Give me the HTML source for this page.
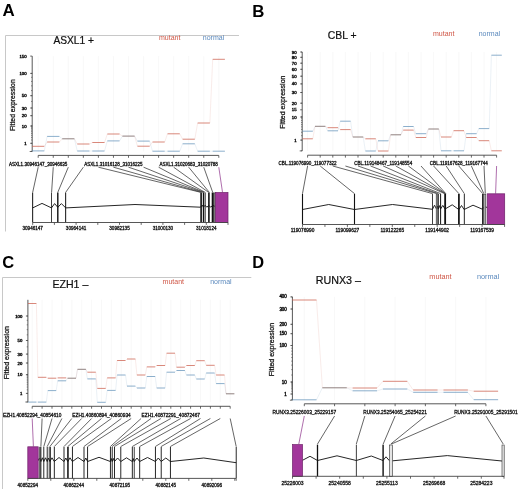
<!DOCTYPE html>
<html><head><meta charset="utf-8"><style>
html,body{margin:0;padding:0;background:#fff;width:520px;height:489px;overflow:hidden}
svg{display:block;will-change:transform}
text{font-family:"Liberation Sans",sans-serif}
</style></head><body>
<svg width="520" height="489" viewBox="0 0 520 489">
<rect width="520" height="489" fill="#fff"/>
<line x1="5.50" y1="35.50" x2="239.00" y2="35.50" stroke="#c8c8c8" stroke-width="1"/>
<line x1="5.50" y1="35.50" x2="5.50" y2="231.50" stroke="#c8c8c8" stroke-width="1"/>
<text x="2.60" y="15.90" font-size="16.9" fill="#000" text-anchor="start" font-weight="bold">A</text>
<text x="53.40" y="44.10" font-size="10.2" fill="#111" text-anchor="start" font-weight="normal" stroke="#111" stroke-width="0.22">ASXL1 +</text>
<text x="159.00" y="39.90" font-size="7.0" fill="#cf5646" text-anchor="start" font-weight="normal">mutant</text>
<text x="202.80" y="39.90" font-size="7.0" fill="#5b89bd" text-anchor="start" font-weight="normal">normal</text>
<line x1="38.20" y1="56.10" x2="38.20" y2="151.50" stroke="#f6f6f6" stroke-width="0.8"/>
<line x1="53.25" y1="56.10" x2="53.25" y2="151.50" stroke="#f6f6f6" stroke-width="0.8"/>
<line x1="68.30" y1="56.10" x2="68.30" y2="151.50" stroke="#f6f6f6" stroke-width="0.8"/>
<line x1="83.35" y1="56.10" x2="83.35" y2="151.50" stroke="#f6f6f6" stroke-width="0.8"/>
<line x1="98.40" y1="56.10" x2="98.40" y2="151.50" stroke="#f6f6f6" stroke-width="0.8"/>
<line x1="113.45" y1="56.10" x2="113.45" y2="151.50" stroke="#f6f6f6" stroke-width="0.8"/>
<line x1="128.50" y1="56.10" x2="128.50" y2="151.50" stroke="#f6f6f6" stroke-width="0.8"/>
<line x1="143.55" y1="56.10" x2="143.55" y2="151.50" stroke="#f6f6f6" stroke-width="0.8"/>
<line x1="158.60" y1="56.10" x2="158.60" y2="151.50" stroke="#f6f6f6" stroke-width="0.8"/>
<line x1="173.65" y1="56.10" x2="173.65" y2="151.50" stroke="#f6f6f6" stroke-width="0.8"/>
<line x1="188.70" y1="56.10" x2="188.70" y2="151.50" stroke="#f6f6f6" stroke-width="0.8"/>
<line x1="203.75" y1="56.10" x2="203.75" y2="151.50" stroke="#f6f6f6" stroke-width="0.8"/>
<line x1="218.80" y1="56.10" x2="218.80" y2="151.50" stroke="#f6f6f6" stroke-width="0.8"/>
<line x1="32.20" y1="56.10" x2="32.20" y2="151.50" stroke="#444" stroke-width="0.9"/>
<line x1="31.00" y1="143.30" x2="32.20" y2="143.30" stroke="#444" stroke-width="0.6"/>
<line x1="31.00" y1="139.99" x2="32.20" y2="139.99" stroke="#444" stroke-width="0.6"/>
<line x1="31.00" y1="137.44" x2="32.20" y2="137.44" stroke="#444" stroke-width="0.6"/>
<line x1="31.00" y1="135.30" x2="32.20" y2="135.30" stroke="#444" stroke-width="0.6"/>
<line x1="31.00" y1="133.41" x2="32.20" y2="133.41" stroke="#444" stroke-width="0.6"/>
<line x1="31.00" y1="131.70" x2="32.20" y2="131.70" stroke="#444" stroke-width="0.6"/>
<line x1="31.00" y1="130.13" x2="32.20" y2="130.13" stroke="#444" stroke-width="0.6"/>
<line x1="31.00" y1="128.67" x2="32.20" y2="128.67" stroke="#444" stroke-width="0.6"/>
<line x1="31.00" y1="127.30" x2="32.20" y2="127.30" stroke="#444" stroke-width="0.6"/>
<line x1="31.00" y1="126.00" x2="32.20" y2="126.00" stroke="#444" stroke-width="0.6"/>
<line x1="31.00" y1="126.00" x2="32.20" y2="126.00" stroke="#444" stroke-width="0.6"/>
<line x1="31.00" y1="115.70" x2="32.20" y2="115.70" stroke="#444" stroke-width="0.6"/>
<line x1="31.00" y1="108.00" x2="32.20" y2="108.00" stroke="#444" stroke-width="0.6"/>
<line x1="31.00" y1="101.46" x2="32.20" y2="101.46" stroke="#444" stroke-width="0.6"/>
<line x1="31.00" y1="95.70" x2="32.20" y2="95.70" stroke="#444" stroke-width="0.6"/>
<line x1="31.00" y1="90.56" x2="32.20" y2="90.56" stroke="#444" stroke-width="0.6"/>
<line x1="31.00" y1="85.84" x2="32.20" y2="85.84" stroke="#444" stroke-width="0.6"/>
<line x1="31.00" y1="81.44" x2="32.20" y2="81.44" stroke="#444" stroke-width="0.6"/>
<line x1="31.00" y1="77.31" x2="32.20" y2="77.31" stroke="#444" stroke-width="0.6"/>
<line x1="31.00" y1="73.40" x2="32.20" y2="73.40" stroke="#444" stroke-width="0.6"/>
<line x1="31.00" y1="151.30" x2="32.20" y2="151.30" stroke="#444" stroke-width="0.6"/>
<line x1="30.20" y1="56.10" x2="32.20" y2="56.10" stroke="#444" stroke-width="0.8"/>
<text x="26.60" y="57.60" font-size="4.25" fill="#111" text-anchor="end" font-weight="normal" stroke="#111" stroke-width="0.4">150</text>
<line x1="30.20" y1="73.40" x2="32.20" y2="73.40" stroke="#444" stroke-width="0.8"/>
<text x="26.60" y="74.90" font-size="4.25" fill="#111" text-anchor="end" font-weight="normal" stroke="#111" stroke-width="0.4">100</text>
<line x1="30.20" y1="95.70" x2="32.20" y2="95.70" stroke="#444" stroke-width="0.8"/>
<text x="26.60" y="97.20" font-size="4.25" fill="#111" text-anchor="end" font-weight="normal" stroke="#111" stroke-width="0.4">50</text>
<line x1="30.20" y1="108.00" x2="32.20" y2="108.00" stroke="#444" stroke-width="0.8"/>
<text x="26.60" y="109.50" font-size="4.25" fill="#111" text-anchor="end" font-weight="normal" stroke="#111" stroke-width="0.4">30</text>
<line x1="30.20" y1="115.70" x2="32.20" y2="115.70" stroke="#444" stroke-width="0.8"/>
<text x="26.60" y="117.20" font-size="4.25" fill="#111" text-anchor="end" font-weight="normal" stroke="#111" stroke-width="0.4">20</text>
<line x1="30.20" y1="126.00" x2="32.20" y2="126.00" stroke="#444" stroke-width="0.8"/>
<text x="26.60" y="127.50" font-size="4.25" fill="#111" text-anchor="end" font-weight="normal" stroke="#111" stroke-width="0.4">10</text>
<line x1="30.20" y1="143.30" x2="32.20" y2="143.30" stroke="#444" stroke-width="0.8"/>
<text x="26.60" y="144.80" font-size="4.25" fill="#111" text-anchor="end" font-weight="normal" stroke="#111" stroke-width="0.4">1</text>
<line x1="29.70" y1="151.50" x2="32.20" y2="151.50" stroke="#444" stroke-width="0.8"/>
<text x="15.00" y="105.20" font-size="6.8" fill="#111" text-anchor="middle" font-weight="normal" stroke="#111" stroke-width="0.25" transform="rotate(-90 15.00 105.20)">Fitted expression</text>
<line x1="44.30" y1="150.90" x2="47.15" y2="136.40" stroke="#5689b4" stroke-width="0.6" stroke-opacity="0.2"/>
<line x1="59.35" y1="136.40" x2="62.20" y2="138.80" stroke="#5689b4" stroke-width="0.6" stroke-opacity="0.2"/>
<line x1="74.40" y1="138.80" x2="77.25" y2="151.00" stroke="#5689b4" stroke-width="0.6" stroke-opacity="0.2"/>
<line x1="89.45" y1="151.00" x2="92.30" y2="151.00" stroke="#5689b4" stroke-width="0.6" stroke-opacity="0.2"/>
<line x1="104.50" y1="151.00" x2="107.35" y2="140.90" stroke="#5689b4" stroke-width="0.6" stroke-opacity="0.2"/>
<line x1="119.55" y1="140.90" x2="122.40" y2="136.10" stroke="#5689b4" stroke-width="0.6" stroke-opacity="0.2"/>
<line x1="134.60" y1="136.10" x2="137.45" y2="141.10" stroke="#5689b4" stroke-width="0.6" stroke-opacity="0.2"/>
<line x1="149.65" y1="141.10" x2="152.50" y2="151.20" stroke="#5689b4" stroke-width="0.6" stroke-opacity="0.2"/>
<line x1="164.70" y1="151.20" x2="167.55" y2="151.20" stroke="#5689b4" stroke-width="0.6" stroke-opacity="0.2"/>
<line x1="179.75" y1="151.20" x2="182.60" y2="143.80" stroke="#5689b4" stroke-width="0.6" stroke-opacity="0.2"/>
<line x1="194.80" y1="143.80" x2="197.65" y2="151.20" stroke="#5689b4" stroke-width="0.6" stroke-opacity="0.2"/>
<line x1="209.85" y1="151.20" x2="212.70" y2="151.20" stroke="#5689b4" stroke-width="0.6" stroke-opacity="0.2"/>
<line x1="44.30" y1="146.30" x2="47.15" y2="142.00" stroke="#cc604f" stroke-width="0.6" stroke-opacity="0.2"/>
<line x1="59.35" y1="142.00" x2="62.20" y2="138.80" stroke="#cc604f" stroke-width="0.6" stroke-opacity="0.2"/>
<line x1="74.40" y1="138.80" x2="77.25" y2="144.00" stroke="#cc604f" stroke-width="0.6" stroke-opacity="0.2"/>
<line x1="89.45" y1="144.00" x2="92.30" y2="142.50" stroke="#cc604f" stroke-width="0.6" stroke-opacity="0.2"/>
<line x1="104.50" y1="142.50" x2="107.35" y2="134.00" stroke="#cc604f" stroke-width="0.6" stroke-opacity="0.2"/>
<line x1="119.55" y1="134.00" x2="122.40" y2="136.10" stroke="#cc604f" stroke-width="0.6" stroke-opacity="0.2"/>
<line x1="134.60" y1="136.10" x2="137.45" y2="146.20" stroke="#cc604f" stroke-width="0.6" stroke-opacity="0.2"/>
<line x1="149.65" y1="146.20" x2="152.50" y2="142.00" stroke="#cc604f" stroke-width="0.6" stroke-opacity="0.2"/>
<line x1="164.70" y1="142.00" x2="167.55" y2="133.80" stroke="#cc604f" stroke-width="0.6" stroke-opacity="0.2"/>
<line x1="179.75" y1="133.80" x2="182.60" y2="139.20" stroke="#cc604f" stroke-width="0.6" stroke-opacity="0.2"/>
<line x1="194.80" y1="139.20" x2="197.65" y2="123.00" stroke="#cc604f" stroke-width="0.6" stroke-opacity="0.2"/>
<line x1="209.85" y1="123.00" x2="212.70" y2="59.30" stroke="#cc604f" stroke-width="0.6" stroke-opacity="0.2"/>
<line x1="32.10" y1="150.90" x2="44.30" y2="150.90" stroke="#5689b4" stroke-width="1.0" stroke-opacity="0.68"/>
<line x1="32.10" y1="146.30" x2="44.30" y2="146.30" stroke="#cc604f" stroke-width="1.0" stroke-opacity="0.75"/>
<line x1="47.15" y1="136.40" x2="59.35" y2="136.40" stroke="#5689b4" stroke-width="1.0" stroke-opacity="0.68"/>
<line x1="47.15" y1="142.00" x2="59.35" y2="142.00" stroke="#cc604f" stroke-width="1.0" stroke-opacity="0.75"/>
<line x1="62.20" y1="138.80" x2="74.40" y2="138.80" stroke="#7d6a68" stroke-width="1.0" stroke-opacity="0.85"/>
<line x1="77.25" y1="151.00" x2="89.45" y2="151.00" stroke="#5689b4" stroke-width="1.0" stroke-opacity="0.68"/>
<line x1="77.25" y1="144.00" x2="89.45" y2="144.00" stroke="#cc604f" stroke-width="1.0" stroke-opacity="0.75"/>
<line x1="92.30" y1="151.00" x2="104.50" y2="151.00" stroke="#5689b4" stroke-width="1.0" stroke-opacity="0.68"/>
<line x1="92.30" y1="142.50" x2="104.50" y2="142.50" stroke="#cc604f" stroke-width="1.0" stroke-opacity="0.75"/>
<line x1="107.35" y1="140.90" x2="119.55" y2="140.90" stroke="#5689b4" stroke-width="1.0" stroke-opacity="0.68"/>
<line x1="107.35" y1="134.00" x2="119.55" y2="134.00" stroke="#cc604f" stroke-width="1.0" stroke-opacity="0.75"/>
<line x1="122.40" y1="136.10" x2="134.60" y2="136.10" stroke="#7d6a68" stroke-width="1.0" stroke-opacity="0.85"/>
<line x1="137.45" y1="141.10" x2="149.65" y2="141.10" stroke="#5689b4" stroke-width="1.0" stroke-opacity="0.68"/>
<line x1="137.45" y1="146.20" x2="149.65" y2="146.20" stroke="#cc604f" stroke-width="1.0" stroke-opacity="0.75"/>
<line x1="152.50" y1="151.20" x2="164.70" y2="151.20" stroke="#5689b4" stroke-width="1.0" stroke-opacity="0.68"/>
<line x1="152.50" y1="142.00" x2="164.70" y2="142.00" stroke="#cc604f" stroke-width="1.0" stroke-opacity="0.75"/>
<line x1="167.55" y1="151.20" x2="179.75" y2="151.20" stroke="#5689b4" stroke-width="1.0" stroke-opacity="0.68"/>
<line x1="167.55" y1="133.80" x2="179.75" y2="133.80" stroke="#cc604f" stroke-width="1.0" stroke-opacity="0.75"/>
<line x1="182.60" y1="143.80" x2="194.80" y2="143.80" stroke="#5689b4" stroke-width="1.0" stroke-opacity="0.68"/>
<line x1="182.60" y1="139.20" x2="194.80" y2="139.20" stroke="#cc604f" stroke-width="1.0" stroke-opacity="0.75"/>
<line x1="197.65" y1="151.20" x2="209.85" y2="151.20" stroke="#5689b4" stroke-width="1.0" stroke-opacity="0.68"/>
<line x1="197.65" y1="123.00" x2="209.85" y2="123.00" stroke="#cc604f" stroke-width="1.0" stroke-opacity="0.75"/>
<line x1="212.70" y1="151.20" x2="224.90" y2="151.20" stroke="#5689b4" stroke-width="1.0" stroke-opacity="0.68"/>
<line x1="212.70" y1="59.30" x2="224.90" y2="59.30" stroke="#cc604f" stroke-width="1.0" stroke-opacity="0.75"/>
<line x1="38.20" y1="155.40" x2="218.80" y2="155.40" stroke="#444" stroke-width="0.9"/>
<line x1="38.20" y1="155.40" x2="38.20" y2="157.80" stroke="#444" stroke-width="0.8"/>
<line x1="53.25" y1="155.40" x2="53.25" y2="157.80" stroke="#444" stroke-width="0.8"/>
<line x1="68.30" y1="155.40" x2="68.30" y2="157.80" stroke="#444" stroke-width="0.8"/>
<line x1="83.35" y1="155.40" x2="83.35" y2="157.80" stroke="#444" stroke-width="0.8"/>
<line x1="98.40" y1="155.40" x2="98.40" y2="157.80" stroke="#444" stroke-width="0.8"/>
<line x1="113.45" y1="155.40" x2="113.45" y2="157.80" stroke="#444" stroke-width="0.8"/>
<line x1="128.50" y1="155.40" x2="128.50" y2="157.80" stroke="#444" stroke-width="0.8"/>
<line x1="143.55" y1="155.40" x2="143.55" y2="157.80" stroke="#444" stroke-width="0.8"/>
<line x1="158.60" y1="155.40" x2="158.60" y2="157.80" stroke="#444" stroke-width="0.8"/>
<line x1="173.65" y1="155.40" x2="173.65" y2="157.80" stroke="#444" stroke-width="0.8"/>
<line x1="188.70" y1="155.40" x2="188.70" y2="157.80" stroke="#444" stroke-width="0.8"/>
<line x1="203.75" y1="155.40" x2="203.75" y2="157.80" stroke="#444" stroke-width="0.8"/>
<line x1="218.80" y1="155.40" x2="218.80" y2="157.80" stroke="#444" stroke-width="0.8"/>
<text x="38.20" y="165.50" font-size="4.55" fill="#111" text-anchor="middle" font-weight="normal" stroke="#111" stroke-width="0.28">ASXL1.30946147_30946635</text>
<text x="113.45" y="165.50" font-size="4.55" fill="#111" text-anchor="middle" font-weight="normal" stroke="#111" stroke-width="0.28">ASXL1.31016128_31016225</text>
<text x="188.70" y="165.50" font-size="4.55" fill="#111" text-anchor="middle" font-weight="normal" stroke="#111" stroke-width="0.28">ASXL1.31020683_31020788</text>
<line x1="38.20" y1="167.20" x2="32.70" y2="192.30" stroke="#333" stroke-width="0.75"/>
<line x1="53.25" y1="167.20" x2="51.60" y2="192.30" stroke="#333" stroke-width="0.75"/>
<line x1="68.30" y1="167.20" x2="57.80" y2="192.30" stroke="#333" stroke-width="0.75"/>
<line x1="83.35" y1="167.20" x2="65.70" y2="192.30" stroke="#333" stroke-width="0.75"/>
<line x1="98.40" y1="167.20" x2="200.60" y2="192.30" stroke="#333" stroke-width="0.75"/>
<line x1="113.45" y1="167.20" x2="201.60" y2="192.30" stroke="#333" stroke-width="0.75"/>
<line x1="128.50" y1="167.20" x2="203.20" y2="192.30" stroke="#333" stroke-width="0.75"/>
<line x1="143.55" y1="167.20" x2="204.00" y2="192.30" stroke="#333" stroke-width="0.75"/>
<line x1="158.60" y1="167.20" x2="205.10" y2="192.30" stroke="#333" stroke-width="0.75"/>
<line x1="173.65" y1="167.20" x2="208.50" y2="192.30" stroke="#333" stroke-width="0.75"/>
<line x1="188.70" y1="167.20" x2="209.30" y2="192.30" stroke="#333" stroke-width="0.75"/>
<line x1="203.75" y1="167.20" x2="212.70" y2="192.30" stroke="#333" stroke-width="0.75"/>
<line x1="218.80" y1="167.20" x2="222.50" y2="192.30" stroke="#9a4a98" stroke-width="0.8"/>
<polyline points="32.70,207.90 42.00,203.40 51.50,207.90 54.60,203.60 57.80,207.30 61.40,203.60 65.70,207.90 135.00,204.50 200.50,207.20 202.30,205.20 203.40,207.20 205.10,205.30 206.80,207.20 208.90,205.40 210.60,207.20 212.70,205.50 215.50,206.50" fill="none" stroke="#1a1a1a" stroke-width="0.95" stroke-linejoin="round"/>
<rect x="32.15" y="192.50" width="1.00" height="30.00" fill="#111" stroke="none" stroke-width="1"/>
<rect x="51.10" y="192.50" width="0.80" height="30.00" fill="#111" stroke="none" stroke-width="1"/>
<rect x="57.10" y="192.50" width="1.40" height="30.00" fill="#111" stroke="none" stroke-width="1"/>
<rect x="65.15" y="192.50" width="1.00" height="30.00" fill="#111" stroke="none" stroke-width="1"/>
<rect x="200.30" y="192.50" width="1.60" height="30.00" fill="#111" stroke="none" stroke-width="1"/>
<rect x="202.80" y="192.50" width="1.20" height="30.00" fill="#111" stroke="none" stroke-width="1"/>
<rect x="204.60" y="192.50" width="1.00" height="30.00" fill="#111" stroke="none" stroke-width="1"/>
<rect x="208.10" y="192.50" width="1.60" height="30.00" fill="#111" stroke="none" stroke-width="1"/>
<rect x="211.70" y="192.50" width="2.10" height="30.00" fill="#111" stroke="none" stroke-width="1"/>
<rect x="214.60" y="192.90" width="1.60" height="29.60" fill="#aaa" stroke="#333" stroke-width="0.6"/>
<rect x="215.60" y="192.50" width="12.40" height="30.00" fill="#a2369b" stroke="#6e2069" stroke-width="0.7"/>
<line x1="32.70" y1="222.50" x2="228.00" y2="222.50" stroke="#444" stroke-width="0.9"/>
<line x1="32.70" y1="222.50" x2="32.70" y2="224.90" stroke="#444" stroke-width="0.8"/>
<line x1="54.40" y1="222.50" x2="54.40" y2="224.90" stroke="#444" stroke-width="0.8"/>
<line x1="76.10" y1="222.50" x2="76.10" y2="224.90" stroke="#444" stroke-width="0.8"/>
<line x1="97.80" y1="222.50" x2="97.80" y2="224.90" stroke="#444" stroke-width="0.8"/>
<line x1="119.50" y1="222.50" x2="119.50" y2="224.90" stroke="#444" stroke-width="0.8"/>
<line x1="141.20" y1="222.50" x2="141.20" y2="224.90" stroke="#444" stroke-width="0.8"/>
<line x1="162.90" y1="222.50" x2="162.90" y2="224.90" stroke="#444" stroke-width="0.8"/>
<line x1="184.60" y1="222.50" x2="184.60" y2="224.90" stroke="#444" stroke-width="0.8"/>
<line x1="206.30" y1="222.50" x2="206.30" y2="224.90" stroke="#444" stroke-width="0.8"/>
<line x1="228.00" y1="222.50" x2="228.00" y2="224.90" stroke="#444" stroke-width="0.8"/>
<text x="32.70" y="230.40" font-size="4.6" fill="#111" text-anchor="middle" font-weight="normal" stroke="#111" stroke-width="0.28">30946147</text>
<text x="76.10" y="230.40" font-size="4.6" fill="#111" text-anchor="middle" font-weight="normal" stroke="#111" stroke-width="0.28">30964141</text>
<text x="119.50" y="230.40" font-size="4.6" fill="#111" text-anchor="middle" font-weight="normal" stroke="#111" stroke-width="0.28">30982135</text>
<text x="162.90" y="230.40" font-size="4.6" fill="#111" text-anchor="middle" font-weight="normal" stroke="#111" stroke-width="0.28">31000130</text>
<text x="206.30" y="230.40" font-size="4.6" fill="#111" text-anchor="middle" font-weight="normal" stroke="#111" stroke-width="0.28">31018124</text>
<text x="252.20" y="16.50" font-size="16.8" fill="#000" text-anchor="start" font-weight="bold">B</text>
<text x="327.80" y="39.30" font-size="10.4" fill="#111" text-anchor="start" font-weight="normal" stroke="#111" stroke-width="0.22">CBL +</text>
<text x="433.00" y="35.50" font-size="7.0" fill="#cf5646" text-anchor="start" font-weight="normal">mutant</text>
<text x="478.70" y="35.50" font-size="7.0" fill="#5b89bd" text-anchor="start" font-weight="normal">normal</text>
<line x1="307.60" y1="52.00" x2="307.60" y2="150.90" stroke="#f6f6f6" stroke-width="0.8"/>
<line x1="320.20" y1="52.00" x2="320.20" y2="150.90" stroke="#f6f6f6" stroke-width="0.8"/>
<line x1="332.80" y1="52.00" x2="332.80" y2="150.90" stroke="#f6f6f6" stroke-width="0.8"/>
<line x1="345.40" y1="52.00" x2="345.40" y2="150.90" stroke="#f6f6f6" stroke-width="0.8"/>
<line x1="358.00" y1="52.00" x2="358.00" y2="150.90" stroke="#f6f6f6" stroke-width="0.8"/>
<line x1="370.60" y1="52.00" x2="370.60" y2="150.90" stroke="#f6f6f6" stroke-width="0.8"/>
<line x1="383.20" y1="52.00" x2="383.20" y2="150.90" stroke="#f6f6f6" stroke-width="0.8"/>
<line x1="395.80" y1="52.00" x2="395.80" y2="150.90" stroke="#f6f6f6" stroke-width="0.8"/>
<line x1="408.40" y1="52.00" x2="408.40" y2="150.90" stroke="#f6f6f6" stroke-width="0.8"/>
<line x1="421.00" y1="52.00" x2="421.00" y2="150.90" stroke="#f6f6f6" stroke-width="0.8"/>
<line x1="433.60" y1="52.00" x2="433.60" y2="150.90" stroke="#f6f6f6" stroke-width="0.8"/>
<line x1="446.20" y1="52.00" x2="446.20" y2="150.90" stroke="#f6f6f6" stroke-width="0.8"/>
<line x1="458.80" y1="52.00" x2="458.80" y2="150.90" stroke="#f6f6f6" stroke-width="0.8"/>
<line x1="471.40" y1="52.00" x2="471.40" y2="150.90" stroke="#f6f6f6" stroke-width="0.8"/>
<line x1="484.00" y1="52.00" x2="484.00" y2="150.90" stroke="#f6f6f6" stroke-width="0.8"/>
<line x1="496.60" y1="52.00" x2="496.60" y2="150.90" stroke="#f6f6f6" stroke-width="0.8"/>
<line x1="302.20" y1="52.00" x2="302.20" y2="150.90" stroke="#444" stroke-width="0.9"/>
<line x1="301.00" y1="140.10" x2="302.20" y2="140.10" stroke="#444" stroke-width="0.6"/>
<line x1="301.00" y1="135.67" x2="302.20" y2="135.67" stroke="#444" stroke-width="0.6"/>
<line x1="301.00" y1="132.28" x2="302.20" y2="132.28" stroke="#444" stroke-width="0.6"/>
<line x1="301.00" y1="129.42" x2="302.20" y2="129.42" stroke="#444" stroke-width="0.6"/>
<line x1="301.00" y1="126.89" x2="302.20" y2="126.89" stroke="#444" stroke-width="0.6"/>
<line x1="301.00" y1="124.61" x2="302.20" y2="124.61" stroke="#444" stroke-width="0.6"/>
<line x1="301.00" y1="122.52" x2="302.20" y2="122.52" stroke="#444" stroke-width="0.6"/>
<line x1="301.00" y1="120.57" x2="302.20" y2="120.57" stroke="#444" stroke-width="0.6"/>
<line x1="301.00" y1="118.73" x2="302.20" y2="118.73" stroke="#444" stroke-width="0.6"/>
<line x1="301.00" y1="117.00" x2="302.20" y2="117.00" stroke="#444" stroke-width="0.6"/>
<line x1="301.00" y1="117.00" x2="302.20" y2="117.00" stroke="#444" stroke-width="0.6"/>
<line x1="301.00" y1="103.20" x2="302.20" y2="103.20" stroke="#444" stroke-width="0.6"/>
<line x1="301.00" y1="92.50" x2="302.20" y2="92.50" stroke="#444" stroke-width="0.6"/>
<line x1="301.00" y1="83.90" x2="302.20" y2="83.90" stroke="#444" stroke-width="0.6"/>
<line x1="301.00" y1="76.20" x2="302.20" y2="76.20" stroke="#444" stroke-width="0.6"/>
<line x1="301.00" y1="69.30" x2="302.20" y2="69.30" stroke="#444" stroke-width="0.6"/>
<line x1="301.00" y1="63.20" x2="302.20" y2="63.20" stroke="#444" stroke-width="0.6"/>
<line x1="301.00" y1="57.30" x2="302.20" y2="57.30" stroke="#444" stroke-width="0.6"/>
<line x1="301.00" y1="52.00" x2="302.20" y2="52.00" stroke="#444" stroke-width="0.6"/>
<line x1="301.00" y1="150.78" x2="302.20" y2="150.78" stroke="#444" stroke-width="0.6"/>
<line x1="300.20" y1="52.00" x2="302.20" y2="52.00" stroke="#444" stroke-width="0.8"/>
<text x="296.60" y="53.50" font-size="4.25" fill="#111" text-anchor="end" font-weight="normal" stroke="#111" stroke-width="0.4">90</text>
<line x1="300.20" y1="57.30" x2="302.20" y2="57.30" stroke="#444" stroke-width="0.8"/>
<text x="296.60" y="58.80" font-size="4.25" fill="#111" text-anchor="end" font-weight="normal" stroke="#111" stroke-width="0.4">80</text>
<line x1="300.20" y1="63.20" x2="302.20" y2="63.20" stroke="#444" stroke-width="0.8"/>
<text x="296.60" y="64.70" font-size="4.25" fill="#111" text-anchor="end" font-weight="normal" stroke="#111" stroke-width="0.4">70</text>
<line x1="300.20" y1="69.30" x2="302.20" y2="69.30" stroke="#444" stroke-width="0.8"/>
<text x="296.60" y="70.80" font-size="4.25" fill="#111" text-anchor="end" font-weight="normal" stroke="#111" stroke-width="0.4">60</text>
<line x1="300.20" y1="76.20" x2="302.20" y2="76.20" stroke="#444" stroke-width="0.8"/>
<text x="296.60" y="77.70" font-size="4.25" fill="#111" text-anchor="end" font-weight="normal" stroke="#111" stroke-width="0.4">50</text>
<line x1="300.20" y1="83.90" x2="302.20" y2="83.90" stroke="#444" stroke-width="0.8"/>
<text x="296.60" y="85.40" font-size="4.25" fill="#111" text-anchor="end" font-weight="normal" stroke="#111" stroke-width="0.4">40</text>
<line x1="300.20" y1="92.50" x2="302.20" y2="92.50" stroke="#444" stroke-width="0.8"/>
<text x="296.60" y="94.00" font-size="4.25" fill="#111" text-anchor="end" font-weight="normal" stroke="#111" stroke-width="0.4">30</text>
<line x1="300.20" y1="103.20" x2="302.20" y2="103.20" stroke="#444" stroke-width="0.8"/>
<text x="296.60" y="104.70" font-size="4.25" fill="#111" text-anchor="end" font-weight="normal" stroke="#111" stroke-width="0.4">20</text>
<line x1="300.20" y1="109.80" x2="302.20" y2="109.80" stroke="#444" stroke-width="0.8"/>
<text x="296.60" y="111.30" font-size="4.25" fill="#111" text-anchor="end" font-weight="normal" stroke="#111" stroke-width="0.4">15</text>
<line x1="300.20" y1="117.00" x2="302.20" y2="117.00" stroke="#444" stroke-width="0.8"/>
<text x="296.60" y="118.50" font-size="4.25" fill="#111" text-anchor="end" font-weight="normal" stroke="#111" stroke-width="0.4">10</text>
<line x1="300.20" y1="140.10" x2="302.20" y2="140.10" stroke="#444" stroke-width="0.8"/>
<text x="296.60" y="141.60" font-size="4.25" fill="#111" text-anchor="end" font-weight="normal" stroke="#111" stroke-width="0.4">1</text>
<line x1="299.70" y1="150.90" x2="302.20" y2="150.90" stroke="#444" stroke-width="0.8"/>
<text x="285.20" y="102.20" font-size="7.0" fill="#111" text-anchor="middle" font-weight="normal" stroke="#111" stroke-width="0.25" transform="rotate(-90 285.20 102.20)">Fitted expression</text>
<line x1="312.80" y1="131.20" x2="315.00" y2="126.30" stroke="#5689b4" stroke-width="0.6" stroke-opacity="0.2"/>
<line x1="325.40" y1="126.30" x2="327.60" y2="130.80" stroke="#5689b4" stroke-width="0.6" stroke-opacity="0.2"/>
<line x1="338.00" y1="130.80" x2="340.20" y2="121.20" stroke="#5689b4" stroke-width="0.6" stroke-opacity="0.2"/>
<line x1="350.60" y1="121.20" x2="352.80" y2="137.00" stroke="#5689b4" stroke-width="0.6" stroke-opacity="0.2"/>
<line x1="363.20" y1="137.00" x2="365.40" y2="151.00" stroke="#5689b4" stroke-width="0.6" stroke-opacity="0.2"/>
<line x1="375.80" y1="151.00" x2="378.00" y2="140.80" stroke="#5689b4" stroke-width="0.6" stroke-opacity="0.2"/>
<line x1="388.40" y1="140.80" x2="390.60" y2="134.80" stroke="#5689b4" stroke-width="0.6" stroke-opacity="0.2"/>
<line x1="401.00" y1="134.80" x2="403.20" y2="126.50" stroke="#5689b4" stroke-width="0.6" stroke-opacity="0.2"/>
<line x1="413.60" y1="126.50" x2="415.80" y2="133.70" stroke="#5689b4" stroke-width="0.6" stroke-opacity="0.2"/>
<line x1="426.20" y1="133.70" x2="428.40" y2="129.00" stroke="#5689b4" stroke-width="0.6" stroke-opacity="0.2"/>
<line x1="438.80" y1="129.00" x2="441.00" y2="150.80" stroke="#5689b4" stroke-width="0.6" stroke-opacity="0.2"/>
<line x1="451.40" y1="150.80" x2="453.60" y2="150.80" stroke="#5689b4" stroke-width="0.6" stroke-opacity="0.2"/>
<line x1="464.00" y1="150.80" x2="466.20" y2="133.70" stroke="#5689b4" stroke-width="0.6" stroke-opacity="0.2"/>
<line x1="476.60" y1="133.70" x2="478.80" y2="128.60" stroke="#5689b4" stroke-width="0.6" stroke-opacity="0.2"/>
<line x1="489.20" y1="128.60" x2="491.40" y2="55.20" stroke="#5689b4" stroke-width="0.6" stroke-opacity="0.2"/>
<line x1="312.80" y1="138.80" x2="315.00" y2="126.30" stroke="#cc604f" stroke-width="0.6" stroke-opacity="0.2"/>
<line x1="325.40" y1="126.30" x2="327.60" y2="127.70" stroke="#cc604f" stroke-width="0.6" stroke-opacity="0.2"/>
<line x1="338.00" y1="127.70" x2="340.20" y2="129.60" stroke="#cc604f" stroke-width="0.6" stroke-opacity="0.2"/>
<line x1="350.60" y1="129.60" x2="352.80" y2="137.00" stroke="#cc604f" stroke-width="0.6" stroke-opacity="0.2"/>
<line x1="363.20" y1="137.00" x2="365.40" y2="138.80" stroke="#cc604f" stroke-width="0.6" stroke-opacity="0.2"/>
<line x1="375.80" y1="138.80" x2="378.00" y2="151.00" stroke="#cc604f" stroke-width="0.6" stroke-opacity="0.2"/>
<line x1="388.40" y1="151.00" x2="390.60" y2="134.80" stroke="#cc604f" stroke-width="0.6" stroke-opacity="0.2"/>
<line x1="401.00" y1="134.80" x2="403.20" y2="130.10" stroke="#cc604f" stroke-width="0.6" stroke-opacity="0.2"/>
<line x1="413.60" y1="130.10" x2="415.80" y2="137.50" stroke="#cc604f" stroke-width="0.6" stroke-opacity="0.2"/>
<line x1="426.20" y1="137.50" x2="428.40" y2="129.00" stroke="#cc604f" stroke-width="0.6" stroke-opacity="0.2"/>
<line x1="438.80" y1="129.00" x2="441.00" y2="137.00" stroke="#cc604f" stroke-width="0.6" stroke-opacity="0.2"/>
<line x1="451.40" y1="137.00" x2="453.60" y2="130.70" stroke="#cc604f" stroke-width="0.6" stroke-opacity="0.2"/>
<line x1="464.00" y1="130.70" x2="466.20" y2="137.50" stroke="#cc604f" stroke-width="0.6" stroke-opacity="0.2"/>
<line x1="476.60" y1="137.50" x2="478.80" y2="140.70" stroke="#cc604f" stroke-width="0.6" stroke-opacity="0.2"/>
<line x1="489.20" y1="140.70" x2="491.40" y2="150.80" stroke="#cc604f" stroke-width="0.6" stroke-opacity="0.2"/>
<line x1="302.40" y1="131.20" x2="312.80" y2="131.20" stroke="#5689b4" stroke-width="1.0" stroke-opacity="0.68"/>
<line x1="302.40" y1="138.80" x2="312.80" y2="138.80" stroke="#cc604f" stroke-width="1.0" stroke-opacity="0.75"/>
<line x1="315.00" y1="126.30" x2="325.40" y2="126.30" stroke="#7d6a68" stroke-width="1.0" stroke-opacity="0.85"/>
<line x1="327.60" y1="130.80" x2="338.00" y2="130.80" stroke="#5689b4" stroke-width="1.0" stroke-opacity="0.68"/>
<line x1="327.60" y1="127.70" x2="338.00" y2="127.70" stroke="#cc604f" stroke-width="1.0" stroke-opacity="0.75"/>
<line x1="340.20" y1="121.20" x2="350.60" y2="121.20" stroke="#5689b4" stroke-width="1.0" stroke-opacity="0.68"/>
<line x1="340.20" y1="129.60" x2="350.60" y2="129.60" stroke="#cc604f" stroke-width="1.0" stroke-opacity="0.75"/>
<line x1="352.80" y1="137.00" x2="363.20" y2="137.00" stroke="#7d6a68" stroke-width="1.0" stroke-opacity="0.85"/>
<line x1="365.40" y1="151.00" x2="375.80" y2="151.00" stroke="#5689b4" stroke-width="1.0" stroke-opacity="0.68"/>
<line x1="365.40" y1="138.80" x2="375.80" y2="138.80" stroke="#cc604f" stroke-width="1.0" stroke-opacity="0.75"/>
<line x1="378.00" y1="140.80" x2="388.40" y2="140.80" stroke="#5689b4" stroke-width="1.0" stroke-opacity="0.68"/>
<line x1="378.00" y1="151.00" x2="388.40" y2="151.00" stroke="#cc604f" stroke-width="1.0" stroke-opacity="0.75"/>
<line x1="390.60" y1="134.80" x2="401.00" y2="134.80" stroke="#7d6a68" stroke-width="1.0" stroke-opacity="0.85"/>
<line x1="403.20" y1="126.50" x2="413.60" y2="126.50" stroke="#5689b4" stroke-width="1.0" stroke-opacity="0.68"/>
<line x1="403.20" y1="130.10" x2="413.60" y2="130.10" stroke="#cc604f" stroke-width="1.0" stroke-opacity="0.75"/>
<line x1="415.80" y1="133.70" x2="426.20" y2="133.70" stroke="#5689b4" stroke-width="1.0" stroke-opacity="0.68"/>
<line x1="415.80" y1="137.50" x2="426.20" y2="137.50" stroke="#cc604f" stroke-width="1.0" stroke-opacity="0.75"/>
<line x1="428.40" y1="129.00" x2="438.80" y2="129.00" stroke="#7d6a68" stroke-width="1.0" stroke-opacity="0.85"/>
<line x1="441.00" y1="150.80" x2="451.40" y2="150.80" stroke="#5689b4" stroke-width="1.0" stroke-opacity="0.68"/>
<line x1="441.00" y1="137.00" x2="451.40" y2="137.00" stroke="#cc604f" stroke-width="1.0" stroke-opacity="0.75"/>
<line x1="453.60" y1="150.80" x2="464.00" y2="150.80" stroke="#5689b4" stroke-width="1.0" stroke-opacity="0.68"/>
<line x1="453.60" y1="130.70" x2="464.00" y2="130.70" stroke="#cc604f" stroke-width="1.0" stroke-opacity="0.75"/>
<line x1="466.20" y1="133.70" x2="476.60" y2="133.70" stroke="#5689b4" stroke-width="1.0" stroke-opacity="0.68"/>
<line x1="466.20" y1="137.50" x2="476.60" y2="137.50" stroke="#cc604f" stroke-width="1.0" stroke-opacity="0.75"/>
<line x1="478.80" y1="128.60" x2="489.20" y2="128.60" stroke="#5689b4" stroke-width="1.0" stroke-opacity="0.68"/>
<line x1="478.80" y1="140.70" x2="489.20" y2="140.70" stroke="#cc604f" stroke-width="1.0" stroke-opacity="0.75"/>
<line x1="491.40" y1="55.20" x2="501.80" y2="55.20" stroke="#5689b4" stroke-width="1.0" stroke-opacity="0.68"/>
<line x1="491.40" y1="150.80" x2="501.80" y2="150.80" stroke="#cc604f" stroke-width="1.0" stroke-opacity="0.75"/>
<line x1="307.60" y1="155.20" x2="496.60" y2="155.20" stroke="#444" stroke-width="0.9"/>
<line x1="307.60" y1="155.20" x2="307.60" y2="157.60" stroke="#444" stroke-width="0.8"/>
<line x1="320.20" y1="155.20" x2="320.20" y2="157.60" stroke="#444" stroke-width="0.8"/>
<line x1="332.80" y1="155.20" x2="332.80" y2="157.60" stroke="#444" stroke-width="0.8"/>
<line x1="345.40" y1="155.20" x2="345.40" y2="157.60" stroke="#444" stroke-width="0.8"/>
<line x1="358.00" y1="155.20" x2="358.00" y2="157.60" stroke="#444" stroke-width="0.8"/>
<line x1="370.60" y1="155.20" x2="370.60" y2="157.60" stroke="#444" stroke-width="0.8"/>
<line x1="383.20" y1="155.20" x2="383.20" y2="157.60" stroke="#444" stroke-width="0.8"/>
<line x1="395.80" y1="155.20" x2="395.80" y2="157.60" stroke="#444" stroke-width="0.8"/>
<line x1="408.40" y1="155.20" x2="408.40" y2="157.60" stroke="#444" stroke-width="0.8"/>
<line x1="421.00" y1="155.20" x2="421.00" y2="157.60" stroke="#444" stroke-width="0.8"/>
<line x1="433.60" y1="155.20" x2="433.60" y2="157.60" stroke="#444" stroke-width="0.8"/>
<line x1="446.20" y1="155.20" x2="446.20" y2="157.60" stroke="#444" stroke-width="0.8"/>
<line x1="458.80" y1="155.20" x2="458.80" y2="157.60" stroke="#444" stroke-width="0.8"/>
<line x1="471.40" y1="155.20" x2="471.40" y2="157.60" stroke="#444" stroke-width="0.8"/>
<line x1="484.00" y1="155.20" x2="484.00" y2="157.60" stroke="#444" stroke-width="0.8"/>
<line x1="496.60" y1="155.20" x2="496.60" y2="157.60" stroke="#444" stroke-width="0.8"/>
<text x="307.60" y="165.10" font-size="4.6" fill="#111" text-anchor="middle" font-weight="normal" stroke="#111" stroke-width="0.28">CBL.119076990_119077322</text>
<text x="383.20" y="165.10" font-size="4.6" fill="#111" text-anchor="middle" font-weight="normal" stroke="#111" stroke-width="0.28">CBL.119148467_119148554</text>
<text x="458.80" y="165.10" font-size="4.6" fill="#111" text-anchor="middle" font-weight="normal" stroke="#111" stroke-width="0.28">CBL.119167628_119167744</text>
<line x1="307.60" y1="166.00" x2="302.50" y2="193.60" stroke="#333" stroke-width="0.75"/>
<line x1="320.20" y1="166.00" x2="354.50" y2="193.60" stroke="#333" stroke-width="0.75"/>
<line x1="332.80" y1="166.00" x2="432.50" y2="193.60" stroke="#333" stroke-width="0.75"/>
<line x1="345.40" y1="166.00" x2="436.70" y2="193.60" stroke="#333" stroke-width="0.75"/>
<line x1="358.00" y1="166.00" x2="438.20" y2="193.60" stroke="#333" stroke-width="0.75"/>
<line x1="370.60" y1="166.00" x2="440.60" y2="193.60" stroke="#333" stroke-width="0.75"/>
<line x1="383.20" y1="166.00" x2="444.60" y2="193.60" stroke="#333" stroke-width="0.75"/>
<line x1="395.80" y1="166.00" x2="445.20" y2="193.60" stroke="#333" stroke-width="0.75"/>
<line x1="408.40" y1="166.00" x2="445.60" y2="193.60" stroke="#333" stroke-width="0.75"/>
<line x1="421.00" y1="166.00" x2="445.80" y2="193.60" stroke="#333" stroke-width="0.75"/>
<line x1="433.60" y1="166.00" x2="458.90" y2="193.60" stroke="#333" stroke-width="0.75"/>
<line x1="446.20" y1="166.00" x2="464.30" y2="193.60" stroke="#333" stroke-width="0.75"/>
<line x1="458.80" y1="166.00" x2="482.70" y2="193.60" stroke="#333" stroke-width="0.75"/>
<line x1="471.40" y1="166.00" x2="483.80" y2="193.60" stroke="#333" stroke-width="0.75"/>
<line x1="484.00" y1="166.00" x2="485.30" y2="193.60" stroke="#333" stroke-width="0.75"/>
<line x1="496.60" y1="166.00" x2="495.60" y2="193.60" stroke="#9a4a98" stroke-width="0.8"/>
<polyline points="302.50,209.50 328.70,204.50 354.50,209.50 392.50,204.50 432.50,209.30 434.50,205.20 436.50,209.00 437.50,206.00 438.30,209.00 439.40,205.60 440.60,209.00 442.80,205.40 445.10,209.00 452.20,204.80 458.90,209.60 461.50,205.50 464.10,209.50 473.00,205.20 482.40,209.20 484.50,206.50 487.20,207.50" fill="none" stroke="#1a1a1a" stroke-width="0.95" stroke-linejoin="round"/>
<rect x="301.95" y="193.80" width="1.10" height="30.70" fill="#111" stroke="none" stroke-width="1"/>
<rect x="353.95" y="193.80" width="1.10" height="30.70" fill="#111" stroke="none" stroke-width="1"/>
<rect x="432.10" y="193.80" width="0.80" height="30.70" fill="#111" stroke="none" stroke-width="1"/>
<rect x="436.20" y="194.20" width="1.00" height="30.30" fill="#aaa" stroke="#333" stroke-width="0.6"/>
<rect x="437.75" y="193.80" width="1.00" height="30.70" fill="#111" stroke="none" stroke-width="1"/>
<rect x="440.10" y="193.80" width="1.00" height="30.70" fill="#111" stroke="none" stroke-width="1"/>
<rect x="444.25" y="193.80" width="1.80" height="30.70" fill="#111" stroke="none" stroke-width="1"/>
<rect x="458.05" y="193.80" width="1.70" height="30.70" fill="#111" stroke="none" stroke-width="1"/>
<rect x="463.85" y="193.80" width="0.90" height="30.70" fill="#111" stroke="none" stroke-width="1"/>
<rect x="482.10" y="193.80" width="1.30" height="30.70" fill="#111" stroke="none" stroke-width="1"/>
<rect x="483.60" y="194.20" width="2.20" height="30.30" fill="#aaa" stroke="#333" stroke-width="0.6"/>
<rect x="487.20" y="193.80" width="17.50" height="30.70" fill="#a2369b" stroke="#6e2069" stroke-width="0.7"/>
<line x1="302.50" y1="224.50" x2="504.55" y2="224.50" stroke="#444" stroke-width="0.9"/>
<line x1="302.50" y1="224.50" x2="302.50" y2="226.90" stroke="#444" stroke-width="0.8"/>
<line x1="324.95" y1="224.50" x2="324.95" y2="226.90" stroke="#444" stroke-width="0.8"/>
<line x1="347.40" y1="224.50" x2="347.40" y2="226.90" stroke="#444" stroke-width="0.8"/>
<line x1="369.85" y1="224.50" x2="369.85" y2="226.90" stroke="#444" stroke-width="0.8"/>
<line x1="392.30" y1="224.50" x2="392.30" y2="226.90" stroke="#444" stroke-width="0.8"/>
<line x1="414.75" y1="224.50" x2="414.75" y2="226.90" stroke="#444" stroke-width="0.8"/>
<line x1="437.20" y1="224.50" x2="437.20" y2="226.90" stroke="#444" stroke-width="0.8"/>
<line x1="459.65" y1="224.50" x2="459.65" y2="226.90" stroke="#444" stroke-width="0.8"/>
<line x1="482.10" y1="224.50" x2="482.10" y2="226.90" stroke="#444" stroke-width="0.8"/>
<line x1="504.55" y1="224.50" x2="504.55" y2="226.90" stroke="#444" stroke-width="0.8"/>
<text x="302.50" y="231.70" font-size="4.8" fill="#111" text-anchor="middle" font-weight="normal" stroke="#111" stroke-width="0.28">119076990</text>
<text x="347.40" y="231.70" font-size="4.8" fill="#111" text-anchor="middle" font-weight="normal" stroke="#111" stroke-width="0.28">119099627</text>
<text x="392.30" y="231.70" font-size="4.8" fill="#111" text-anchor="middle" font-weight="normal" stroke="#111" stroke-width="0.28">119122265</text>
<text x="437.20" y="231.70" font-size="4.8" fill="#111" text-anchor="middle" font-weight="normal" stroke="#111" stroke-width="0.28">119144902</text>
<text x="482.10" y="231.70" font-size="4.8" fill="#111" text-anchor="middle" font-weight="normal" stroke="#111" stroke-width="0.28">119167539</text>
<line x1="2.50" y1="277.50" x2="251.30" y2="277.50" stroke="#c8c8c8" stroke-width="1"/>
<line x1="2.50" y1="277.50" x2="2.50" y2="489.00" stroke="#c8c8c8" stroke-width="1"/>
<text x="2.20" y="267.90" font-size="16.5" fill="#000" text-anchor="start" font-weight="bold">C</text>
<text x="52.40" y="287.60" font-size="10.6" fill="#111" text-anchor="start" font-weight="normal" stroke="#111" stroke-width="0.22">EZH1 –</text>
<text x="162.60" y="283.90" font-size="7.0" fill="#cf5646" text-anchor="start" font-weight="normal">mutant</text>
<text x="210.20" y="283.90" font-size="7.0" fill="#5b89bd" text-anchor="start" font-weight="normal">normal</text>
<line x1="32.20" y1="299.80" x2="32.20" y2="402.00" stroke="#f6f6f6" stroke-width="0.8"/>
<line x1="42.10" y1="299.80" x2="42.10" y2="402.00" stroke="#f6f6f6" stroke-width="0.8"/>
<line x1="52.00" y1="299.80" x2="52.00" y2="402.00" stroke="#f6f6f6" stroke-width="0.8"/>
<line x1="61.90" y1="299.80" x2="61.90" y2="402.00" stroke="#f6f6f6" stroke-width="0.8"/>
<line x1="71.80" y1="299.80" x2="71.80" y2="402.00" stroke="#f6f6f6" stroke-width="0.8"/>
<line x1="81.70" y1="299.80" x2="81.70" y2="402.00" stroke="#f6f6f6" stroke-width="0.8"/>
<line x1="91.60" y1="299.80" x2="91.60" y2="402.00" stroke="#f6f6f6" stroke-width="0.8"/>
<line x1="101.50" y1="299.80" x2="101.50" y2="402.00" stroke="#f6f6f6" stroke-width="0.8"/>
<line x1="111.40" y1="299.80" x2="111.40" y2="402.00" stroke="#f6f6f6" stroke-width="0.8"/>
<line x1="121.30" y1="299.80" x2="121.30" y2="402.00" stroke="#f6f6f6" stroke-width="0.8"/>
<line x1="131.20" y1="299.80" x2="131.20" y2="402.00" stroke="#f6f6f6" stroke-width="0.8"/>
<line x1="141.10" y1="299.80" x2="141.10" y2="402.00" stroke="#f6f6f6" stroke-width="0.8"/>
<line x1="151.00" y1="299.80" x2="151.00" y2="402.00" stroke="#f6f6f6" stroke-width="0.8"/>
<line x1="160.90" y1="299.80" x2="160.90" y2="402.00" stroke="#f6f6f6" stroke-width="0.8"/>
<line x1="170.80" y1="299.80" x2="170.80" y2="402.00" stroke="#f6f6f6" stroke-width="0.8"/>
<line x1="180.70" y1="299.80" x2="180.70" y2="402.00" stroke="#f6f6f6" stroke-width="0.8"/>
<line x1="190.60" y1="299.80" x2="190.60" y2="402.00" stroke="#f6f6f6" stroke-width="0.8"/>
<line x1="200.50" y1="299.80" x2="200.50" y2="402.00" stroke="#f6f6f6" stroke-width="0.8"/>
<line x1="210.40" y1="299.80" x2="210.40" y2="402.00" stroke="#f6f6f6" stroke-width="0.8"/>
<line x1="220.30" y1="299.80" x2="220.30" y2="402.00" stroke="#f6f6f6" stroke-width="0.8"/>
<line x1="230.20" y1="299.80" x2="230.20" y2="402.00" stroke="#f6f6f6" stroke-width="0.8"/>
<line x1="27.90" y1="299.80" x2="27.90" y2="402.00" stroke="#444" stroke-width="0.9"/>
<line x1="26.70" y1="393.40" x2="27.90" y2="393.40" stroke="#444" stroke-width="0.6"/>
<line x1="26.70" y1="389.82" x2="27.90" y2="389.82" stroke="#444" stroke-width="0.6"/>
<line x1="26.70" y1="387.07" x2="27.90" y2="387.07" stroke="#444" stroke-width="0.6"/>
<line x1="26.70" y1="384.75" x2="27.90" y2="384.75" stroke="#444" stroke-width="0.6"/>
<line x1="26.70" y1="382.71" x2="27.90" y2="382.71" stroke="#444" stroke-width="0.6"/>
<line x1="26.70" y1="380.86" x2="27.90" y2="380.86" stroke="#444" stroke-width="0.6"/>
<line x1="26.70" y1="379.17" x2="27.90" y2="379.17" stroke="#444" stroke-width="0.6"/>
<line x1="26.70" y1="377.59" x2="27.90" y2="377.59" stroke="#444" stroke-width="0.6"/>
<line x1="26.70" y1="376.10" x2="27.90" y2="376.10" stroke="#444" stroke-width="0.6"/>
<line x1="26.70" y1="374.70" x2="27.90" y2="374.70" stroke="#444" stroke-width="0.6"/>
<line x1="26.70" y1="374.70" x2="27.90" y2="374.70" stroke="#444" stroke-width="0.6"/>
<line x1="26.70" y1="363.00" x2="27.90" y2="363.00" stroke="#444" stroke-width="0.6"/>
<line x1="26.70" y1="354.10" x2="27.90" y2="354.10" stroke="#444" stroke-width="0.6"/>
<line x1="26.70" y1="346.87" x2="27.90" y2="346.87" stroke="#444" stroke-width="0.6"/>
<line x1="26.70" y1="340.50" x2="27.90" y2="340.50" stroke="#444" stroke-width="0.6"/>
<line x1="26.70" y1="334.85" x2="27.90" y2="334.85" stroke="#444" stroke-width="0.6"/>
<line x1="26.70" y1="329.66" x2="27.90" y2="329.66" stroke="#444" stroke-width="0.6"/>
<line x1="26.70" y1="324.83" x2="27.90" y2="324.83" stroke="#444" stroke-width="0.6"/>
<line x1="26.70" y1="320.29" x2="27.90" y2="320.29" stroke="#444" stroke-width="0.6"/>
<line x1="26.70" y1="316.00" x2="27.90" y2="316.00" stroke="#444" stroke-width="0.6"/>
<line x1="26.70" y1="402.05" x2="27.90" y2="402.05" stroke="#444" stroke-width="0.6"/>
<line x1="25.90" y1="316.00" x2="27.90" y2="316.00" stroke="#444" stroke-width="0.8"/>
<text x="22.30" y="317.50" font-size="4.25" fill="#111" text-anchor="end" font-weight="normal" stroke="#111" stroke-width="0.4">100</text>
<line x1="25.90" y1="340.50" x2="27.90" y2="340.50" stroke="#444" stroke-width="0.8"/>
<text x="22.30" y="342.00" font-size="4.25" fill="#111" text-anchor="end" font-weight="normal" stroke="#111" stroke-width="0.4">50</text>
<line x1="25.90" y1="354.10" x2="27.90" y2="354.10" stroke="#444" stroke-width="0.8"/>
<text x="22.30" y="355.60" font-size="4.25" fill="#111" text-anchor="end" font-weight="normal" stroke="#111" stroke-width="0.4">30</text>
<line x1="25.90" y1="363.00" x2="27.90" y2="363.00" stroke="#444" stroke-width="0.8"/>
<text x="22.30" y="364.50" font-size="4.25" fill="#111" text-anchor="end" font-weight="normal" stroke="#111" stroke-width="0.4">20</text>
<line x1="25.90" y1="374.70" x2="27.90" y2="374.70" stroke="#444" stroke-width="0.8"/>
<text x="22.30" y="376.20" font-size="4.25" fill="#111" text-anchor="end" font-weight="normal" stroke="#111" stroke-width="0.4">10</text>
<line x1="25.90" y1="393.40" x2="27.90" y2="393.40" stroke="#444" stroke-width="0.8"/>
<text x="22.30" y="394.90" font-size="4.25" fill="#111" text-anchor="end" font-weight="normal" stroke="#111" stroke-width="0.4">1</text>
<line x1="25.40" y1="402.00" x2="27.90" y2="402.00" stroke="#444" stroke-width="0.8"/>
<text x="8.90" y="352.70" font-size="7.0" fill="#111" text-anchor="middle" font-weight="normal" stroke="#111" stroke-width="0.25" transform="rotate(-90 8.90 352.70)">Fitted expression</text>
<line x1="36.40" y1="402.10" x2="37.90" y2="402.10" stroke="#5689b4" stroke-width="0.6" stroke-opacity="0.2"/>
<line x1="46.30" y1="402.10" x2="47.80" y2="390.60" stroke="#5689b4" stroke-width="0.6" stroke-opacity="0.2"/>
<line x1="56.20" y1="390.60" x2="57.70" y2="380.80" stroke="#5689b4" stroke-width="0.6" stroke-opacity="0.2"/>
<line x1="66.10" y1="380.80" x2="67.60" y2="378.20" stroke="#5689b4" stroke-width="0.6" stroke-opacity="0.2"/>
<line x1="76.00" y1="378.20" x2="77.50" y2="369.30" stroke="#5689b4" stroke-width="0.6" stroke-opacity="0.2"/>
<line x1="85.90" y1="369.30" x2="87.40" y2="378.90" stroke="#5689b4" stroke-width="0.6" stroke-opacity="0.2"/>
<line x1="95.80" y1="378.90" x2="97.30" y2="402.30" stroke="#5689b4" stroke-width="0.6" stroke-opacity="0.2"/>
<line x1="105.70" y1="402.30" x2="107.20" y2="390.40" stroke="#5689b4" stroke-width="0.6" stroke-opacity="0.2"/>
<line x1="115.60" y1="390.40" x2="117.10" y2="375.00" stroke="#5689b4" stroke-width="0.6" stroke-opacity="0.2"/>
<line x1="125.50" y1="375.00" x2="127.00" y2="386.10" stroke="#5689b4" stroke-width="0.6" stroke-opacity="0.2"/>
<line x1="135.40" y1="386.10" x2="136.90" y2="388.00" stroke="#5689b4" stroke-width="0.6" stroke-opacity="0.2"/>
<line x1="145.30" y1="388.00" x2="146.80" y2="376.50" stroke="#5689b4" stroke-width="0.6" stroke-opacity="0.2"/>
<line x1="155.20" y1="376.50" x2="156.70" y2="388.00" stroke="#5689b4" stroke-width="0.6" stroke-opacity="0.2"/>
<line x1="165.10" y1="388.00" x2="166.60" y2="372.20" stroke="#5689b4" stroke-width="0.6" stroke-opacity="0.2"/>
<line x1="175.00" y1="372.20" x2="176.50" y2="370.50" stroke="#5689b4" stroke-width="0.6" stroke-opacity="0.2"/>
<line x1="184.90" y1="370.50" x2="186.40" y2="375.00" stroke="#5689b4" stroke-width="0.6" stroke-opacity="0.2"/>
<line x1="194.80" y1="375.00" x2="196.30" y2="379.00" stroke="#5689b4" stroke-width="0.6" stroke-opacity="0.2"/>
<line x1="204.70" y1="379.00" x2="206.20" y2="373.00" stroke="#5689b4" stroke-width="0.6" stroke-opacity="0.2"/>
<line x1="214.60" y1="373.00" x2="216.10" y2="383.60" stroke="#5689b4" stroke-width="0.6" stroke-opacity="0.2"/>
<line x1="224.50" y1="383.60" x2="226.00" y2="393.80" stroke="#5689b4" stroke-width="0.6" stroke-opacity="0.2"/>
<line x1="36.40" y1="303.50" x2="37.90" y2="377.30" stroke="#cc604f" stroke-width="0.6" stroke-opacity="0.2"/>
<line x1="46.30" y1="377.30" x2="47.80" y2="378.20" stroke="#cc604f" stroke-width="0.6" stroke-opacity="0.2"/>
<line x1="56.20" y1="378.20" x2="57.70" y2="377.90" stroke="#cc604f" stroke-width="0.6" stroke-opacity="0.2"/>
<line x1="66.10" y1="377.90" x2="67.60" y2="378.20" stroke="#cc604f" stroke-width="0.6" stroke-opacity="0.2"/>
<line x1="76.00" y1="378.20" x2="77.50" y2="369.30" stroke="#cc604f" stroke-width="0.6" stroke-opacity="0.2"/>
<line x1="85.90" y1="369.30" x2="87.40" y2="372.20" stroke="#cc604f" stroke-width="0.6" stroke-opacity="0.2"/>
<line x1="95.80" y1="372.20" x2="97.30" y2="388.40" stroke="#cc604f" stroke-width="0.6" stroke-opacity="0.2"/>
<line x1="105.70" y1="388.40" x2="107.20" y2="377.90" stroke="#cc604f" stroke-width="0.6" stroke-opacity="0.2"/>
<line x1="115.60" y1="377.90" x2="117.10" y2="360.50" stroke="#cc604f" stroke-width="0.6" stroke-opacity="0.2"/>
<line x1="125.50" y1="360.50" x2="127.00" y2="359.00" stroke="#cc604f" stroke-width="0.6" stroke-opacity="0.2"/>
<line x1="135.40" y1="359.00" x2="136.90" y2="375.00" stroke="#cc604f" stroke-width="0.6" stroke-opacity="0.2"/>
<line x1="145.30" y1="375.00" x2="146.80" y2="366.90" stroke="#cc604f" stroke-width="0.6" stroke-opacity="0.2"/>
<line x1="155.20" y1="366.90" x2="156.70" y2="365.50" stroke="#cc604f" stroke-width="0.6" stroke-opacity="0.2"/>
<line x1="165.10" y1="365.50" x2="166.60" y2="353.20" stroke="#cc604f" stroke-width="0.6" stroke-opacity="0.2"/>
<line x1="175.00" y1="353.20" x2="176.50" y2="367.20" stroke="#cc604f" stroke-width="0.6" stroke-opacity="0.2"/>
<line x1="184.90" y1="367.20" x2="186.40" y2="365.50" stroke="#cc604f" stroke-width="0.6" stroke-opacity="0.2"/>
<line x1="194.80" y1="365.50" x2="196.30" y2="360.70" stroke="#cc604f" stroke-width="0.6" stroke-opacity="0.2"/>
<line x1="204.70" y1="360.70" x2="206.20" y2="365.30" stroke="#cc604f" stroke-width="0.6" stroke-opacity="0.2"/>
<line x1="214.60" y1="365.30" x2="216.10" y2="375.00" stroke="#cc604f" stroke-width="0.6" stroke-opacity="0.2"/>
<line x1="224.50" y1="375.00" x2="226.00" y2="393.80" stroke="#cc604f" stroke-width="0.6" stroke-opacity="0.2"/>
<line x1="28.00" y1="402.10" x2="36.40" y2="402.10" stroke="#5689b4" stroke-width="1.0" stroke-opacity="0.68"/>
<line x1="28.00" y1="303.50" x2="36.40" y2="303.50" stroke="#cc604f" stroke-width="1.0" stroke-opacity="0.75"/>
<line x1="37.90" y1="402.10" x2="46.30" y2="402.10" stroke="#5689b4" stroke-width="1.0" stroke-opacity="0.68"/>
<line x1="37.90" y1="377.30" x2="46.30" y2="377.30" stroke="#cc604f" stroke-width="1.0" stroke-opacity="0.75"/>
<line x1="47.80" y1="390.60" x2="56.20" y2="390.60" stroke="#5689b4" stroke-width="1.0" stroke-opacity="0.68"/>
<line x1="47.80" y1="378.20" x2="56.20" y2="378.20" stroke="#cc604f" stroke-width="1.0" stroke-opacity="0.75"/>
<line x1="57.70" y1="380.80" x2="66.10" y2="380.80" stroke="#5689b4" stroke-width="1.0" stroke-opacity="0.68"/>
<line x1="57.70" y1="377.90" x2="66.10" y2="377.90" stroke="#cc604f" stroke-width="1.0" stroke-opacity="0.75"/>
<line x1="67.60" y1="378.20" x2="76.00" y2="378.20" stroke="#7d6a68" stroke-width="1.0" stroke-opacity="0.85"/>
<line x1="77.50" y1="369.30" x2="85.90" y2="369.30" stroke="#7d6a68" stroke-width="1.0" stroke-opacity="0.85"/>
<line x1="87.40" y1="378.90" x2="95.80" y2="378.90" stroke="#5689b4" stroke-width="1.0" stroke-opacity="0.68"/>
<line x1="87.40" y1="372.20" x2="95.80" y2="372.20" stroke="#cc604f" stroke-width="1.0" stroke-opacity="0.75"/>
<line x1="97.30" y1="402.30" x2="105.70" y2="402.30" stroke="#5689b4" stroke-width="1.0" stroke-opacity="0.68"/>
<line x1="97.30" y1="388.40" x2="105.70" y2="388.40" stroke="#cc604f" stroke-width="1.0" stroke-opacity="0.75"/>
<line x1="107.20" y1="390.40" x2="115.60" y2="390.40" stroke="#5689b4" stroke-width="1.0" stroke-opacity="0.68"/>
<line x1="107.20" y1="377.90" x2="115.60" y2="377.90" stroke="#cc604f" stroke-width="1.0" stroke-opacity="0.75"/>
<line x1="117.10" y1="375.00" x2="125.50" y2="375.00" stroke="#5689b4" stroke-width="1.0" stroke-opacity="0.68"/>
<line x1="117.10" y1="360.50" x2="125.50" y2="360.50" stroke="#cc604f" stroke-width="1.0" stroke-opacity="0.75"/>
<line x1="127.00" y1="386.10" x2="135.40" y2="386.10" stroke="#5689b4" stroke-width="1.0" stroke-opacity="0.68"/>
<line x1="127.00" y1="359.00" x2="135.40" y2="359.00" stroke="#cc604f" stroke-width="1.0" stroke-opacity="0.75"/>
<line x1="136.90" y1="388.00" x2="145.30" y2="388.00" stroke="#5689b4" stroke-width="1.0" stroke-opacity="0.68"/>
<line x1="136.90" y1="375.00" x2="145.30" y2="375.00" stroke="#cc604f" stroke-width="1.0" stroke-opacity="0.75"/>
<line x1="146.80" y1="376.50" x2="155.20" y2="376.50" stroke="#5689b4" stroke-width="1.0" stroke-opacity="0.68"/>
<line x1="146.80" y1="366.90" x2="155.20" y2="366.90" stroke="#cc604f" stroke-width="1.0" stroke-opacity="0.75"/>
<line x1="156.70" y1="388.00" x2="165.10" y2="388.00" stroke="#5689b4" stroke-width="1.0" stroke-opacity="0.68"/>
<line x1="156.70" y1="365.50" x2="165.10" y2="365.50" stroke="#cc604f" stroke-width="1.0" stroke-opacity="0.75"/>
<line x1="166.60" y1="372.20" x2="175.00" y2="372.20" stroke="#5689b4" stroke-width="1.0" stroke-opacity="0.68"/>
<line x1="166.60" y1="353.20" x2="175.00" y2="353.20" stroke="#cc604f" stroke-width="1.0" stroke-opacity="0.75"/>
<line x1="176.50" y1="370.50" x2="184.90" y2="370.50" stroke="#5689b4" stroke-width="1.0" stroke-opacity="0.68"/>
<line x1="176.50" y1="367.20" x2="184.90" y2="367.20" stroke="#cc604f" stroke-width="1.0" stroke-opacity="0.75"/>
<line x1="186.40" y1="375.00" x2="194.80" y2="375.00" stroke="#5689b4" stroke-width="1.0" stroke-opacity="0.68"/>
<line x1="186.40" y1="365.50" x2="194.80" y2="365.50" stroke="#cc604f" stroke-width="1.0" stroke-opacity="0.75"/>
<line x1="196.30" y1="379.00" x2="204.70" y2="379.00" stroke="#5689b4" stroke-width="1.0" stroke-opacity="0.68"/>
<line x1="196.30" y1="360.70" x2="204.70" y2="360.70" stroke="#cc604f" stroke-width="1.0" stroke-opacity="0.75"/>
<line x1="206.20" y1="373.00" x2="214.60" y2="373.00" stroke="#5689b4" stroke-width="1.0" stroke-opacity="0.68"/>
<line x1="206.20" y1="365.30" x2="214.60" y2="365.30" stroke="#cc604f" stroke-width="1.0" stroke-opacity="0.75"/>
<line x1="216.10" y1="383.60" x2="224.50" y2="383.60" stroke="#5689b4" stroke-width="1.0" stroke-opacity="0.68"/>
<line x1="216.10" y1="375.00" x2="224.50" y2="375.00" stroke="#cc604f" stroke-width="1.0" stroke-opacity="0.75"/>
<line x1="226.00" y1="393.80" x2="234.40" y2="393.80" stroke="#7d6a68" stroke-width="1.0" stroke-opacity="0.85"/>
<line x1="32.20" y1="406.30" x2="230.20" y2="406.30" stroke="#444" stroke-width="0.9"/>
<line x1="32.20" y1="406.30" x2="32.20" y2="408.70" stroke="#444" stroke-width="0.8"/>
<line x1="42.10" y1="406.30" x2="42.10" y2="408.70" stroke="#444" stroke-width="0.8"/>
<line x1="52.00" y1="406.30" x2="52.00" y2="408.70" stroke="#444" stroke-width="0.8"/>
<line x1="61.90" y1="406.30" x2="61.90" y2="408.70" stroke="#444" stroke-width="0.8"/>
<line x1="71.80" y1="406.30" x2="71.80" y2="408.70" stroke="#444" stroke-width="0.8"/>
<line x1="81.70" y1="406.30" x2="81.70" y2="408.70" stroke="#444" stroke-width="0.8"/>
<line x1="91.60" y1="406.30" x2="91.60" y2="408.70" stroke="#444" stroke-width="0.8"/>
<line x1="101.50" y1="406.30" x2="101.50" y2="408.70" stroke="#444" stroke-width="0.8"/>
<line x1="111.40" y1="406.30" x2="111.40" y2="408.70" stroke="#444" stroke-width="0.8"/>
<line x1="121.30" y1="406.30" x2="121.30" y2="408.70" stroke="#444" stroke-width="0.8"/>
<line x1="131.20" y1="406.30" x2="131.20" y2="408.70" stroke="#444" stroke-width="0.8"/>
<line x1="141.10" y1="406.30" x2="141.10" y2="408.70" stroke="#444" stroke-width="0.8"/>
<line x1="151.00" y1="406.30" x2="151.00" y2="408.70" stroke="#444" stroke-width="0.8"/>
<line x1="160.90" y1="406.30" x2="160.90" y2="408.70" stroke="#444" stroke-width="0.8"/>
<line x1="170.80" y1="406.30" x2="170.80" y2="408.70" stroke="#444" stroke-width="0.8"/>
<line x1="180.70" y1="406.30" x2="180.70" y2="408.70" stroke="#444" stroke-width="0.8"/>
<line x1="190.60" y1="406.30" x2="190.60" y2="408.70" stroke="#444" stroke-width="0.8"/>
<line x1="200.50" y1="406.30" x2="200.50" y2="408.70" stroke="#444" stroke-width="0.8"/>
<line x1="210.40" y1="406.30" x2="210.40" y2="408.70" stroke="#444" stroke-width="0.8"/>
<line x1="220.30" y1="406.30" x2="220.30" y2="408.70" stroke="#444" stroke-width="0.8"/>
<line x1="230.20" y1="406.30" x2="230.20" y2="408.70" stroke="#444" stroke-width="0.8"/>
<text x="32.20" y="417.30" font-size="4.75" fill="#111" text-anchor="middle" font-weight="normal" stroke="#111" stroke-width="0.28">EZH1.40852294_40854610</text>
<text x="101.50" y="417.30" font-size="4.75" fill="#111" text-anchor="middle" font-weight="normal" stroke="#111" stroke-width="0.28">EZH1.40860894_40860934</text>
<text x="170.80" y="417.30" font-size="4.75" fill="#111" text-anchor="middle" font-weight="normal" stroke="#111" stroke-width="0.28">EZH1.40872291_40872467</text>
<line x1="32.20" y1="418.50" x2="33.40" y2="446.50" stroke="#9a4a98" stroke-width="0.8"/>
<line x1="42.10" y1="418.50" x2="40.90" y2="446.50" stroke="#333" stroke-width="0.75"/>
<line x1="52.00" y1="418.50" x2="43.80" y2="446.50" stroke="#333" stroke-width="0.75"/>
<line x1="61.90" y1="418.50" x2="47.20" y2="446.50" stroke="#333" stroke-width="0.75"/>
<line x1="71.80" y1="418.50" x2="49.90" y2="446.50" stroke="#333" stroke-width="0.75"/>
<line x1="81.70" y1="418.50" x2="54.30" y2="446.50" stroke="#333" stroke-width="0.75"/>
<line x1="91.60" y1="418.50" x2="64.00" y2="446.50" stroke="#333" stroke-width="0.75"/>
<line x1="101.50" y1="418.50" x2="67.80" y2="446.50" stroke="#333" stroke-width="0.75"/>
<line x1="111.40" y1="418.50" x2="72.40" y2="446.50" stroke="#333" stroke-width="0.75"/>
<line x1="121.30" y1="418.50" x2="84.00" y2="446.50" stroke="#333" stroke-width="0.75"/>
<line x1="131.20" y1="418.50" x2="87.60" y2="446.50" stroke="#333" stroke-width="0.75"/>
<line x1="141.10" y1="418.50" x2="110.40" y2="446.50" stroke="#333" stroke-width="0.75"/>
<line x1="151.00" y1="418.50" x2="112.20" y2="446.50" stroke="#333" stroke-width="0.75"/>
<line x1="160.90" y1="418.50" x2="114.50" y2="446.50" stroke="#333" stroke-width="0.75"/>
<line x1="170.80" y1="418.50" x2="120.80" y2="446.50" stroke="#333" stroke-width="0.75"/>
<line x1="180.70" y1="418.50" x2="132.30" y2="446.50" stroke="#333" stroke-width="0.75"/>
<line x1="190.60" y1="418.50" x2="139.70" y2="446.50" stroke="#333" stroke-width="0.75"/>
<line x1="200.50" y1="418.50" x2="155.40" y2="446.50" stroke="#333" stroke-width="0.75"/>
<line x1="210.40" y1="418.50" x2="161.20" y2="446.50" stroke="#333" stroke-width="0.75"/>
<line x1="220.30" y1="418.50" x2="170.40" y2="446.50" stroke="#333" stroke-width="0.75"/>
<line x1="230.20" y1="418.50" x2="236.20" y2="446.50" stroke="#333" stroke-width="0.75"/>
<polyline points="37.70,461.00 39.50,458.00 40.90,461.50 42.40,457.80 43.80,461.50 45.50,457.80 47.20,461.50 48.50,458.00 49.90,461.50 52.00,457.80 54.30,461.50 59.00,457.50 64.00,461.50 65.80,458.00 67.80,461.50 70.00,457.80 72.40,461.50 78.00,457.50 84.00,461.50 85.80,458.00 87.60,461.50 99.00,457.30 110.40,461.50 111.30,458.50 112.20,461.50 113.40,458.50 114.50,461.50 117.60,458.00 120.80,461.50 126.50,457.80 132.30,461.50 133.20,458.50 134.20,461.50 137.00,458.00 139.70,461.50 147.50,457.50 155.40,461.50 158.30,458.00 161.20,461.50 165.80,458.00 170.40,461.50 203.80,458.00 236.20,462.70" fill="none" stroke="#1a1a1a" stroke-width="0.95" stroke-linejoin="round"/>
<rect x="39.50" y="447.20" width="0.70" height="31.20" fill="#aaa" stroke="#333" stroke-width="0.6"/>
<rect x="40.45" y="446.80" width="0.90" height="31.60" fill="#111" stroke="none" stroke-width="1"/>
<rect x="43.35" y="446.80" width="0.90" height="31.60" fill="#111" stroke="none" stroke-width="1"/>
<rect x="46.75" y="446.80" width="0.90" height="31.60" fill="#111" stroke="none" stroke-width="1"/>
<rect x="48.80" y="446.80" width="0.80" height="31.60" fill="#111" stroke="none" stroke-width="1"/>
<rect x="50.20" y="446.80" width="0.80" height="31.60" fill="#111" stroke="none" stroke-width="1"/>
<rect x="53.85" y="446.80" width="0.90" height="31.60" fill="#111" stroke="none" stroke-width="1"/>
<rect x="63.55" y="446.80" width="0.90" height="31.60" fill="#111" stroke="none" stroke-width="1"/>
<rect x="67.00" y="446.80" width="0.80" height="31.60" fill="#111" stroke="none" stroke-width="1"/>
<rect x="67.90" y="446.80" width="0.80" height="31.60" fill="#111" stroke="none" stroke-width="1"/>
<rect x="71.95" y="446.80" width="0.90" height="31.60" fill="#111" stroke="none" stroke-width="1"/>
<rect x="83.55" y="446.80" width="0.90" height="31.60" fill="#111" stroke="none" stroke-width="1"/>
<rect x="87.15" y="446.80" width="0.90" height="31.60" fill="#111" stroke="none" stroke-width="1"/>
<rect x="109.95" y="446.80" width="0.90" height="31.60" fill="#111" stroke="none" stroke-width="1"/>
<rect x="111.75" y="446.80" width="0.90" height="31.60" fill="#111" stroke="none" stroke-width="1"/>
<rect x="114.05" y="446.80" width="0.90" height="31.60" fill="#111" stroke="none" stroke-width="1"/>
<rect x="120.35" y="446.80" width="0.90" height="31.60" fill="#111" stroke="none" stroke-width="1"/>
<rect x="131.85" y="446.80" width="0.90" height="31.60" fill="#111" stroke="none" stroke-width="1"/>
<rect x="133.80" y="446.80" width="0.80" height="31.60" fill="#111" stroke="none" stroke-width="1"/>
<rect x="139.25" y="446.80" width="0.90" height="31.60" fill="#111" stroke="none" stroke-width="1"/>
<rect x="154.95" y="446.80" width="0.90" height="31.60" fill="#111" stroke="none" stroke-width="1"/>
<rect x="160.75" y="446.80" width="0.90" height="31.60" fill="#111" stroke="none" stroke-width="1"/>
<rect x="169.95" y="446.80" width="0.90" height="31.60" fill="#111" stroke="none" stroke-width="1"/>
<rect x="235.75" y="446.80" width="0.90" height="31.60" fill="#111" stroke="none" stroke-width="1"/>
<rect x="27.80" y="446.80" width="10.40" height="31.60" fill="#a2369b" stroke="#6e2069" stroke-width="0.7"/>
<line x1="27.80" y1="478.40" x2="236.20" y2="478.40" stroke="#444" stroke-width="0.9"/>
<line x1="27.80" y1="478.40" x2="27.80" y2="480.80" stroke="#444" stroke-width="0.8"/>
<line x1="50.80" y1="478.40" x2="50.80" y2="480.80" stroke="#444" stroke-width="0.8"/>
<line x1="73.80" y1="478.40" x2="73.80" y2="480.80" stroke="#444" stroke-width="0.8"/>
<line x1="96.80" y1="478.40" x2="96.80" y2="480.80" stroke="#444" stroke-width="0.8"/>
<line x1="119.80" y1="478.40" x2="119.80" y2="480.80" stroke="#444" stroke-width="0.8"/>
<line x1="142.80" y1="478.40" x2="142.80" y2="480.80" stroke="#444" stroke-width="0.8"/>
<line x1="165.80" y1="478.40" x2="165.80" y2="480.80" stroke="#444" stroke-width="0.8"/>
<line x1="188.80" y1="478.40" x2="188.80" y2="480.80" stroke="#444" stroke-width="0.8"/>
<line x1="211.80" y1="478.40" x2="211.80" y2="480.80" stroke="#444" stroke-width="0.8"/>
<line x1="234.80" y1="478.40" x2="234.80" y2="480.80" stroke="#444" stroke-width="0.8"/>
<line x1="236.20" y1="478.40" x2="236.20" y2="480.80" stroke="#444" stroke-width="0.8"/>
<text x="27.80" y="487.10" font-size="4.6" fill="#111" text-anchor="middle" font-weight="normal" stroke="#111" stroke-width="0.28">40852294</text>
<text x="73.80" y="487.10" font-size="4.6" fill="#111" text-anchor="middle" font-weight="normal" stroke="#111" stroke-width="0.28">40862244</text>
<text x="119.80" y="487.10" font-size="4.6" fill="#111" text-anchor="middle" font-weight="normal" stroke="#111" stroke-width="0.28">40872195</text>
<text x="165.80" y="487.10" font-size="4.6" fill="#111" text-anchor="middle" font-weight="normal" stroke="#111" stroke-width="0.28">40882145</text>
<text x="211.80" y="487.10" font-size="4.6" fill="#111" text-anchor="middle" font-weight="normal" stroke="#111" stroke-width="0.28">40892096</text>
<text x="252.30" y="267.90" font-size="16.4" fill="#000" text-anchor="start" font-weight="bold">D</text>
<text x="315.80" y="283.50" font-size="10.7" fill="#111" text-anchor="start" font-weight="normal" stroke="#111" stroke-width="0.22">RUNX3 –</text>
<text x="429.30" y="279.30" font-size="7.3" fill="#cf5646" text-anchor="start" font-weight="normal">mutant</text>
<text x="477.00" y="279.30" font-size="7.3" fill="#5b89bd" text-anchor="start" font-weight="normal">normal</text>
<line x1="304.30" y1="296.90" x2="304.30" y2="400.20" stroke="#f6f6f6" stroke-width="0.8"/>
<line x1="334.57" y1="296.90" x2="334.57" y2="400.20" stroke="#f6f6f6" stroke-width="0.8"/>
<line x1="364.84" y1="296.90" x2="364.84" y2="400.20" stroke="#f6f6f6" stroke-width="0.8"/>
<line x1="395.11" y1="296.90" x2="395.11" y2="400.20" stroke="#f6f6f6" stroke-width="0.8"/>
<line x1="425.38" y1="296.90" x2="425.38" y2="400.20" stroke="#f6f6f6" stroke-width="0.8"/>
<line x1="455.65" y1="296.90" x2="455.65" y2="400.20" stroke="#f6f6f6" stroke-width="0.8"/>
<line x1="485.92" y1="296.90" x2="485.92" y2="400.20" stroke="#f6f6f6" stroke-width="0.8"/>
<line x1="292.40" y1="296.90" x2="292.40" y2="400.20" stroke="#444" stroke-width="0.9"/>
<line x1="291.20" y1="394.00" x2="292.40" y2="394.00" stroke="#444" stroke-width="0.6"/>
<line x1="291.20" y1="391.70" x2="292.40" y2="391.70" stroke="#444" stroke-width="0.6"/>
<line x1="291.20" y1="389.94" x2="292.40" y2="389.94" stroke="#444" stroke-width="0.6"/>
<line x1="291.20" y1="388.45" x2="292.40" y2="388.45" stroke="#444" stroke-width="0.6"/>
<line x1="291.20" y1="387.14" x2="292.40" y2="387.14" stroke="#444" stroke-width="0.6"/>
<line x1="291.20" y1="385.96" x2="292.40" y2="385.96" stroke="#444" stroke-width="0.6"/>
<line x1="291.20" y1="384.87" x2="292.40" y2="384.87" stroke="#444" stroke-width="0.6"/>
<line x1="291.20" y1="383.85" x2="292.40" y2="383.85" stroke="#444" stroke-width="0.6"/>
<line x1="291.20" y1="382.90" x2="292.40" y2="382.90" stroke="#444" stroke-width="0.6"/>
<line x1="291.20" y1="382.00" x2="292.40" y2="382.00" stroke="#444" stroke-width="0.6"/>
<line x1="291.20" y1="382.00" x2="292.40" y2="382.00" stroke="#444" stroke-width="0.6"/>
<line x1="291.20" y1="375.01" x2="292.40" y2="375.01" stroke="#444" stroke-width="0.6"/>
<line x1="291.20" y1="369.64" x2="292.40" y2="369.64" stroke="#444" stroke-width="0.6"/>
<line x1="291.20" y1="365.12" x2="292.40" y2="365.12" stroke="#444" stroke-width="0.6"/>
<line x1="291.20" y1="361.13" x2="292.40" y2="361.13" stroke="#444" stroke-width="0.6"/>
<line x1="291.20" y1="357.53" x2="292.40" y2="357.53" stroke="#444" stroke-width="0.6"/>
<line x1="291.20" y1="354.22" x2="292.40" y2="354.22" stroke="#444" stroke-width="0.6"/>
<line x1="291.20" y1="351.14" x2="292.40" y2="351.14" stroke="#444" stroke-width="0.6"/>
<line x1="291.20" y1="348.24" x2="292.40" y2="348.24" stroke="#444" stroke-width="0.6"/>
<line x1="291.20" y1="345.50" x2="292.40" y2="345.50" stroke="#444" stroke-width="0.6"/>
<line x1="291.20" y1="333.70" x2="292.40" y2="333.70" stroke="#444" stroke-width="0.6"/>
<line x1="291.20" y1="324.30" x2="292.40" y2="324.30" stroke="#444" stroke-width="0.6"/>
<line x1="291.20" y1="309.00" x2="292.40" y2="309.00" stroke="#444" stroke-width="0.6"/>
<line x1="291.20" y1="296.90" x2="292.40" y2="296.90" stroke="#444" stroke-width="0.6"/>
<line x1="291.20" y1="399.55" x2="292.40" y2="399.55" stroke="#444" stroke-width="0.6"/>
<line x1="290.40" y1="296.90" x2="292.40" y2="296.90" stroke="#444" stroke-width="0.8"/>
<text x="286.80" y="298.40" font-size="4.45" fill="#111" text-anchor="end" font-weight="normal" stroke="#111" stroke-width="0.4">400</text>
<line x1="290.40" y1="309.00" x2="292.40" y2="309.00" stroke="#444" stroke-width="0.8"/>
<text x="286.80" y="310.50" font-size="4.45" fill="#111" text-anchor="end" font-weight="normal" stroke="#111" stroke-width="0.4">300</text>
<line x1="290.40" y1="324.30" x2="292.40" y2="324.30" stroke="#444" stroke-width="0.8"/>
<text x="286.80" y="325.80" font-size="4.45" fill="#111" text-anchor="end" font-weight="normal" stroke="#111" stroke-width="0.4">200</text>
<line x1="290.40" y1="333.70" x2="292.40" y2="333.70" stroke="#444" stroke-width="0.8"/>
<text x="286.80" y="335.20" font-size="4.45" fill="#111" text-anchor="end" font-weight="normal" stroke="#111" stroke-width="0.4">150</text>
<line x1="290.40" y1="345.50" x2="292.40" y2="345.50" stroke="#444" stroke-width="0.8"/>
<text x="286.80" y="347.00" font-size="4.45" fill="#111" text-anchor="end" font-weight="normal" stroke="#111" stroke-width="0.4">100</text>
<line x1="290.40" y1="382.00" x2="292.40" y2="382.00" stroke="#444" stroke-width="0.8"/>
<text x="286.80" y="383.50" font-size="4.45" fill="#111" text-anchor="end" font-weight="normal" stroke="#111" stroke-width="0.4">10</text>
<line x1="290.40" y1="394.00" x2="292.40" y2="394.00" stroke="#444" stroke-width="0.8"/>
<text x="286.80" y="395.50" font-size="4.45" fill="#111" text-anchor="end" font-weight="normal" stroke="#111" stroke-width="0.4">1</text>
<line x1="289.90" y1="400.20" x2="292.40" y2="400.20" stroke="#444" stroke-width="0.8"/>
<text x="274.00" y="349.60" font-size="7.0" fill="#111" text-anchor="middle" font-weight="normal" stroke="#111" stroke-width="0.25" transform="rotate(-90 274.00 349.60)">Fitted expression</text>
<line x1="316.50" y1="399.80" x2="322.37" y2="387.80" stroke="#5689b4" stroke-width="0.6" stroke-opacity="0.2"/>
<line x1="346.77" y1="387.80" x2="352.64" y2="390.80" stroke="#5689b4" stroke-width="0.6" stroke-opacity="0.2"/>
<line x1="377.04" y1="390.80" x2="382.91" y2="389.00" stroke="#5689b4" stroke-width="0.6" stroke-opacity="0.2"/>
<line x1="407.31" y1="389.00" x2="413.18" y2="392.30" stroke="#5689b4" stroke-width="0.6" stroke-opacity="0.2"/>
<line x1="437.58" y1="392.30" x2="443.45" y2="392.30" stroke="#5689b4" stroke-width="0.6" stroke-opacity="0.2"/>
<line x1="467.85" y1="392.30" x2="473.72" y2="399.70" stroke="#5689b4" stroke-width="0.6" stroke-opacity="0.2"/>
<line x1="316.50" y1="300.00" x2="322.37" y2="387.80" stroke="#cc604f" stroke-width="0.6" stroke-opacity="0.2"/>
<line x1="346.77" y1="387.80" x2="352.64" y2="388.00" stroke="#cc604f" stroke-width="0.6" stroke-opacity="0.2"/>
<line x1="377.04" y1="388.00" x2="382.91" y2="381.30" stroke="#cc604f" stroke-width="0.6" stroke-opacity="0.2"/>
<line x1="407.31" y1="381.30" x2="413.18" y2="390.00" stroke="#cc604f" stroke-width="0.6" stroke-opacity="0.2"/>
<line x1="437.58" y1="390.00" x2="443.45" y2="390.00" stroke="#cc604f" stroke-width="0.6" stroke-opacity="0.2"/>
<line x1="467.85" y1="390.00" x2="473.72" y2="391.20" stroke="#cc604f" stroke-width="0.6" stroke-opacity="0.2"/>
<line x1="292.10" y1="399.80" x2="316.50" y2="399.80" stroke="#5689b4" stroke-width="1.0" stroke-opacity="0.68"/>
<line x1="292.10" y1="300.00" x2="316.50" y2="300.00" stroke="#cc604f" stroke-width="1.0" stroke-opacity="0.75"/>
<line x1="322.37" y1="387.80" x2="346.77" y2="387.80" stroke="#7d6a68" stroke-width="1.0" stroke-opacity="0.85"/>
<line x1="352.64" y1="390.80" x2="377.04" y2="390.80" stroke="#5689b4" stroke-width="1.0" stroke-opacity="0.68"/>
<line x1="352.64" y1="388.00" x2="377.04" y2="388.00" stroke="#cc604f" stroke-width="1.0" stroke-opacity="0.75"/>
<line x1="382.91" y1="389.00" x2="407.31" y2="389.00" stroke="#5689b4" stroke-width="1.0" stroke-opacity="0.68"/>
<line x1="382.91" y1="381.30" x2="407.31" y2="381.30" stroke="#cc604f" stroke-width="1.0" stroke-opacity="0.75"/>
<line x1="413.18" y1="392.30" x2="437.58" y2="392.30" stroke="#5689b4" stroke-width="1.0" stroke-opacity="0.68"/>
<line x1="413.18" y1="390.00" x2="437.58" y2="390.00" stroke="#cc604f" stroke-width="1.0" stroke-opacity="0.75"/>
<line x1="443.45" y1="392.30" x2="467.85" y2="392.30" stroke="#5689b4" stroke-width="1.0" stroke-opacity="0.68"/>
<line x1="443.45" y1="390.00" x2="467.85" y2="390.00" stroke="#cc604f" stroke-width="1.0" stroke-opacity="0.75"/>
<line x1="473.72" y1="399.70" x2="498.12" y2="399.70" stroke="#5689b4" stroke-width="1.0" stroke-opacity="0.68"/>
<line x1="473.72" y1="391.20" x2="498.12" y2="391.20" stroke="#cc604f" stroke-width="1.0" stroke-opacity="0.75"/>
<line x1="304.30" y1="403.80" x2="485.92" y2="403.80" stroke="#444" stroke-width="0.9"/>
<line x1="304.30" y1="403.80" x2="304.30" y2="406.20" stroke="#444" stroke-width="0.8"/>
<line x1="334.57" y1="403.80" x2="334.57" y2="406.20" stroke="#444" stroke-width="0.8"/>
<line x1="364.84" y1="403.80" x2="364.84" y2="406.20" stroke="#444" stroke-width="0.8"/>
<line x1="395.11" y1="403.80" x2="395.11" y2="406.20" stroke="#444" stroke-width="0.8"/>
<line x1="425.38" y1="403.80" x2="425.38" y2="406.20" stroke="#444" stroke-width="0.8"/>
<line x1="455.65" y1="403.80" x2="455.65" y2="406.20" stroke="#444" stroke-width="0.8"/>
<line x1="485.92" y1="403.80" x2="485.92" y2="406.20" stroke="#444" stroke-width="0.8"/>
<text x="304.30" y="414.40" font-size="4.85" fill="#111" text-anchor="middle" font-weight="normal" stroke="#111" stroke-width="0.28">RUNX3.25226003_25229157</text>
<text x="395.11" y="414.40" font-size="4.85" fill="#111" text-anchor="middle" font-weight="normal" stroke="#111" stroke-width="0.28">RUNX3.25254065_25254221</text>
<text x="485.92" y="414.40" font-size="4.85" fill="#111" text-anchor="middle" font-weight="normal" stroke="#111" stroke-width="0.28">RUNX3.25291005_25291501</text>
<line x1="304.30" y1="416.00" x2="298.80" y2="444.00" stroke="#9a4a98" stroke-width="0.8"/>
<line x1="334.57" y1="416.00" x2="317.50" y2="444.00" stroke="#333" stroke-width="0.75"/>
<line x1="364.84" y1="416.00" x2="356.30" y2="444.00" stroke="#333" stroke-width="0.75"/>
<line x1="395.11" y1="416.00" x2="383.20" y2="444.00" stroke="#333" stroke-width="0.75"/>
<line x1="425.38" y1="416.00" x2="390.80" y2="444.00" stroke="#333" stroke-width="0.75"/>
<line x1="455.65" y1="416.00" x2="391.50" y2="444.00" stroke="#333" stroke-width="0.75"/>
<line x1="485.92" y1="416.00" x2="503.20" y2="444.00" stroke="#333" stroke-width="0.75"/>
<polyline points="302.50,460.30 310.00,456.30 317.50,460.50 337.00,455.80 356.30,460.50 371.30,456.00 383.00,460.50 386.00,456.80 389.50,460.80 392.70,460.80 447.30,455.60 502.00,461.00" fill="none" stroke="#1a1a1a" stroke-width="0.95" stroke-linejoin="round"/>
<rect x="316.85" y="444.60" width="1.30" height="31.70" fill="#111" stroke="none" stroke-width="1"/>
<rect x="355.90" y="444.60" width="0.80" height="31.70" fill="#111" stroke="none" stroke-width="1"/>
<rect x="382.40" y="444.60" width="1.40" height="31.70" fill="#111" stroke="none" stroke-width="1"/>
<rect x="389.40" y="445.00" width="3.20" height="31.30" fill="#e4e4e4" stroke="#333" stroke-width="0.6"/>
<rect x="502.00" y="445.00" width="2.20" height="31.30" fill="#e4e4e4" stroke="#333" stroke-width="0.6"/>
<rect x="292.50" y="444.60" width="10.00" height="31.70" fill="#a2369b" stroke="#6e2069" stroke-width="0.7"/>
<line x1="292.50" y1="476.30" x2="504.00" y2="476.30" stroke="#444" stroke-width="0.9"/>
<line x1="292.50" y1="476.30" x2="292.50" y2="478.70" stroke="#444" stroke-width="0.8"/>
<line x1="316.10" y1="476.30" x2="316.10" y2="478.70" stroke="#444" stroke-width="0.8"/>
<line x1="339.70" y1="476.30" x2="339.70" y2="478.70" stroke="#444" stroke-width="0.8"/>
<line x1="363.30" y1="476.30" x2="363.30" y2="478.70" stroke="#444" stroke-width="0.8"/>
<line x1="386.90" y1="476.30" x2="386.90" y2="478.70" stroke="#444" stroke-width="0.8"/>
<line x1="410.50" y1="476.30" x2="410.50" y2="478.70" stroke="#444" stroke-width="0.8"/>
<line x1="434.10" y1="476.30" x2="434.10" y2="478.70" stroke="#444" stroke-width="0.8"/>
<line x1="457.70" y1="476.30" x2="457.70" y2="478.70" stroke="#444" stroke-width="0.8"/>
<line x1="481.30" y1="476.30" x2="481.30" y2="478.70" stroke="#444" stroke-width="0.8"/>
<line x1="504.00" y1="476.30" x2="504.00" y2="478.70" stroke="#444" stroke-width="0.8"/>
<text x="292.50" y="485.20" font-size="5.0" fill="#111" text-anchor="middle" font-weight="normal" stroke="#111" stroke-width="0.28">25226003</text>
<text x="339.70" y="485.20" font-size="5.0" fill="#111" text-anchor="middle" font-weight="normal" stroke="#111" stroke-width="0.28">25240558</text>
<text x="386.90" y="485.20" font-size="5.0" fill="#111" text-anchor="middle" font-weight="normal" stroke="#111" stroke-width="0.28">25255113</text>
<text x="434.10" y="485.20" font-size="5.0" fill="#111" text-anchor="middle" font-weight="normal" stroke="#111" stroke-width="0.28">25269668</text>
<text x="481.30" y="485.20" font-size="5.0" fill="#111" text-anchor="middle" font-weight="normal" stroke="#111" stroke-width="0.28">25284223</text>
</svg>
</body></html>
